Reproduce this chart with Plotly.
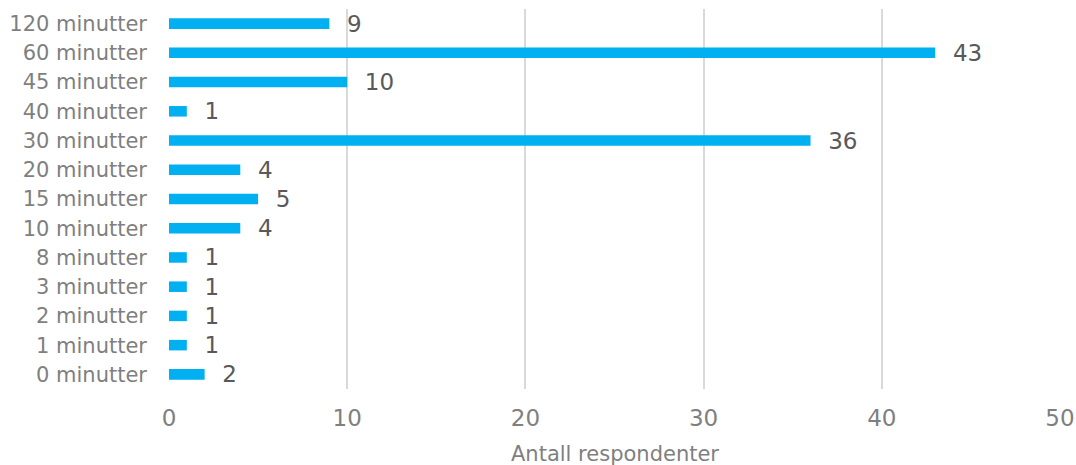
import plotly.graph_objects as go

categories = ["0 minutter", "1 minutter", "2 minutter", "3 minutter", "8 minutter",
              "10 minutter", "15 minutter", "20 minutter", "30 minutter", "40 minutter",
              "45 minutter", "60 minutter", "120 minutter"]
values = [2, 1, 1, 1, 1, 4, 5, 4, 36, 1, 10, 43, 9]
x_ticks = [0, 10, 20, 30, 40, 50]
x_title = "Antall respondenter"

FONT = "DejaVu Sans, Verdana, sans-serif"

fig = go.Figure(go.Bar(
    y=categories, x=values, orientation="h",
    marker=dict(color="#00B0F0", line=dict(width=0)),
    width=0.36,
    text=["  " + str(v) for v in values], textposition="outside",
    constraintext="none",
    textfont=dict(family=FONT, size=23, color="#595959"),
    cliponaxis=False,
))

fig.update_layout(
    width=1076, height=465,
    margin=dict(l=169, r=16, t=9, b=76, autoexpand=False),
    paper_bgcolor="white", plot_bgcolor="white",
    showlegend=False,
    font=dict(family=FONT, color="#7f7f7f"),
    xaxis=dict(range=[0, 50], tickvals=x_ticks, showgrid=True, gridcolor="#d9d9d9",
               gridwidth=1.5, zeroline=False, showline=False, automargin=False,
               tickfont=dict(family=FONT, size=23, color="#7f7f7f"),
               ticklabelstandoff=13),
    yaxis=dict(categoryorder="array", categoryarray=categories, showgrid=False,
               zeroline=False, showline=False, automargin=False,
               tickfont=dict(family=FONT, size=21, color="#7f7f7f"),
               ticklabelstandoff=21),
    annotations=[dict(text=x_title, xref="paper", yref="paper", x=0.5, y=0,
                      yshift=-65, yanchor="middle", showarrow=False,
                      font=dict(family=FONT, size=21, color="#7f7f7f"))],
)

fig.write_html(
    "out.html",
    config={"displayModeBar": False},
    post_script="document.body.style.margin='0';document.body.style.overflow='hidden';",
)
